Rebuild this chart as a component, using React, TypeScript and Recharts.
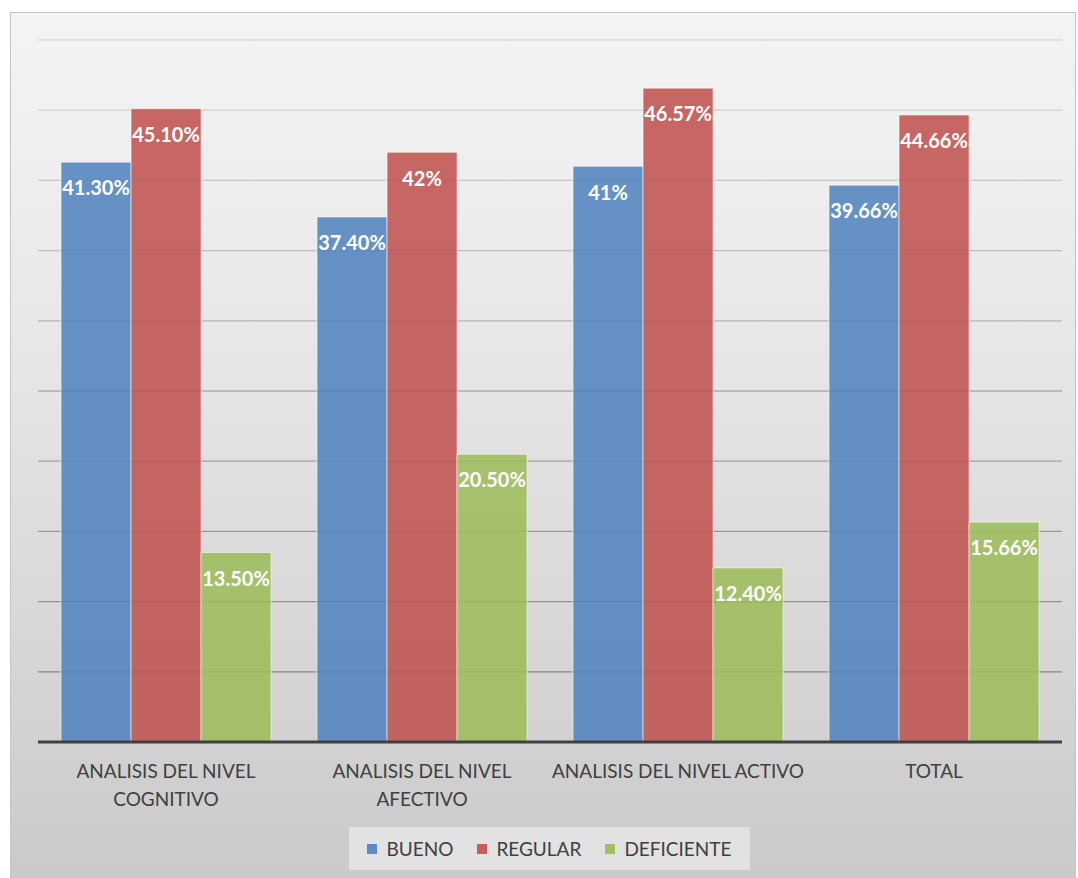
import { Bar, BarChart, CartesianGrid, LabelList, XAxis, YAxis } from "recharts";

const categories = [
  "ANALISIS DEL NIVEL COGNITIVO",
  "ANALISIS DEL NIVEL AFECTIVO",
  "ANALISIS DEL NIVEL ACTIVO",
  "TOTAL",
];
const bueno = [41.3, 37.4, 41, 39.66];
const regular = [45.1, 42, 46.57, 44.66];
const deficiente = [13.5, 20.5, 12.4, 15.66];
const buenoText = ["41.30%", "37.40%", "41%", "39.66%"];
const regularText = ["45.10%", "42%", "46.57%", "44.66%"];
const deficienteText = ["13.50%", "20.50%", "12.40%", "15.66%"];
const yTicks = [0, 5, 10, 15, 20, 25, 30, 35, 40, 45, 50];

const SERIES = [
  { key: "bueno", label: "buenoText", name: "BUENO", color: "#4f81bd" },
  { key: "regular", label: "regularText", name: "REGULAR", color: "#c0504d" },
  { key: "deficiente", label: "deficienteText", name: "DEFICIENTE", color: "#9bbb59" },
];

const data = categories.map((name, i) => ({
  name,
  bueno: bueno[i],
  regular: regular[i],
  deficiente: deficiente[i],
  buenoText: buenoText[i],
  regularText: regularText[i],
  deficienteText: deficienteText[i],
}));

const FONT = "Lato, 'Open Sans', sans-serif";
const TICK_SIZE = 19;

// greedy word wrap, measured with a canvas so it matches the real font
let ctx: CanvasRenderingContext2D | null = null;
function wrap(label: string, maxWidth: number) {
  if (!ctx) ctx = document.createElement("canvas").getContext("2d");
  if (ctx) ctx.font = `${TICK_SIZE}px Lato`;
  const measure = (s: string) => (ctx ? ctx.measureText(s).width : s.length * 11);
  const lines: string[] = [];
  let cur = "";
  for (const w of label.split(" ")) {
    const next = cur ? cur + " " + w : w;
    if (cur && measure(next) > maxWidth) {
      lines.push(cur);
      cur = w;
    } else cur = next;
  }
  if (cur) lines.push(cur);
  return lines;
}

function CategoryTick({ x, y, payload }: any) {
  const lines = wrap(String(payload.value), 262);
  return (
    <text x={x} y={y} textAnchor="middle" fill="#404040" style={{ fontFamily: FONT, fontSize: TICK_SIZE }}>
      {lines.map((l, i) => (
        <tspan key={i} x={x} y={y + 36 + i * 28}>
          {l}
        </tspan>
      ))}
    </text>
  );
}

export default function App() {
  return (
    <div style={{ position: "absolute", left: 0, top: 0, width: 1078, height: 878, overflow: "hidden", background: "#fff" }}>
      <svg width={0} height={0} style={{ position: "absolute" }}>
        <defs>
          <linearGradient id="gridFade" gradientUnits="userSpaceOnUse" x1="0" y1="40" x2="0" y2="742">
            <stop offset="0%" stopColor="#dadada" />
            <stop offset="100%" stopColor="#7e7e7e" />
          </linearGradient>
        </defs>
      </svg>
      <div
        style={{
          position: "absolute",
          left: 10,
          top: 12,
          width: 1064,
          height: 880,
          border: "1px solid #c4c4c4",
          background: "linear-gradient(180deg, #f4f4f4 0%, #e8e8e8 35%, #c9c9c9 100%)",
        }}
      />
      <div style={{ position: "absolute", left: 0, top: 0 }}>
        <BarChart
          width={1078}
          height={878}
          data={data}
          margin={{ top: 40, right: 16, left: 38, bottom: 76 }}
          barCategoryGap="9%"
          barGap={0}
        >
          <CartesianGrid vertical={false} stroke="url(#gridFade)" strokeWidth={1.3} />
          <YAxis hide domain={[0, 50]} ticks={yTicks} />
          <XAxis
            dataKey="name"
            height={60}
            tickLine={false}
            tickSize={0}
            tickMargin={0}
            interval={0}
            axisLine={{ stroke: "#404040", strokeWidth: 3 }}
            tick={<CategoryTick />}
          />
          {SERIES.map((s) => (
            <Bar
              key={s.key}
              dataKey={s.key}
              name={s.name}
              fill={s.color}
              fillOpacity={0.86}
              stroke="#ffffff"
              strokeOpacity={0.55}
              strokeWidth={1}
              isAnimationActive={false}
            >
              <LabelList
                dataKey={s.label}
                position="insideTop"
                offset={19}
                fill="#ffffff"
                style={{ fontFamily: FONT, fontSize: 20, fontWeight: 700 }}
              />
            </Bar>
          ))}
        </BarChart>
      </div>
      <div
        style={{
          position: "absolute",
          left: 349,
          top: 827,
          width: 401,
          height: 43,
          background: "#e2e2e2",
          display: "flex",
          alignItems: "center",
          justifyContent: "center",
          gap: 24,
          fontFamily: FONT,
          fontSize: TICK_SIZE,
          color: "#404040",
        }}
      >
        {SERIES.map((s) => (
          <span key={s.key} style={{ display: "flex", alignItems: "center", gap: 9 }}>
            <span style={{ width: 10, height: 10, background: s.color, opacity: 0.9 }} />
            {s.name}
          </span>
        ))}
      </div>
    </div>
  );
}
